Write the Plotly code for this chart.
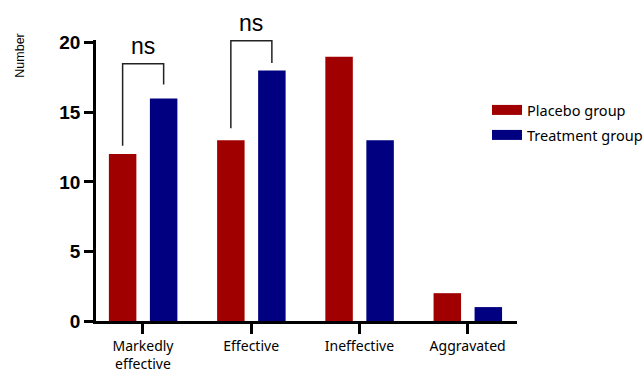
import plotly.graph_objects as go

# Outcome categories and patient counts per group
categories = ["Markedly<br>effective", "Effective", "Ineffective", "Aggravated"]
placebo = [12, 13, 19, 2]
treatment = [16, 18, 13, 1]

# Significance brackets: category index, label, left foot, right foot, top
bracket_cat = [0, 1]
bracket_text = ["ns", "ns"]
bracket_left = [12.6, 13.85]
bracket_right = [17.0, 18.55]
bracket_top = [18.5, 20.15]

RED = "#a00000"
NAVY = "#000080"
BAR_W = 0.254
OFF_P = -0.315
OFF_T = 0.064

xpos = list(range(len(categories)))

fig = go.Figure()
fig.add_bar(x=xpos, y=placebo, width=BAR_W, offset=OFF_P,
            marker=dict(color=RED, line=dict(width=0)),
            name="Placebo group", showlegend=False)
fig.add_bar(x=xpos, y=treatment, width=BAR_W, offset=OFF_T,
            marker=dict(color=NAVY, line=dict(width=0)),
            name="Treatment group", showlegend=False)

# Legend swatches drawn as wide line samples
fig.add_scatter(x=[None], y=[None], mode="lines", name="Placebo group",
                line=dict(color=RED, width=11), legend="legend")
fig.add_scatter(x=[None], y=[None], mode="lines", name="Treatment group",
                line=dict(color=NAVY, width=11), legend="legend2")

cp = OFF_P + BAR_W / 2
ct = OFF_T + BAR_W / 2
for i, txt, yl, yr, yt in zip(bracket_cat, bracket_text, bracket_left,
                              bracket_right, bracket_top):
    xl, xr = i + cp, i + ct
    fig.add_scatter(x=[xl, xl, xr, xr], y=[yl, yt, yt, yr], mode="lines",
                    line=dict(color="#222222", width=1.5),
                    showlegend=False, hoverinfo="skip")
    fig.add_annotation(x=(xl + xr) / 2, y=yt, xref="x", yref="y",
                       text=txt, showarrow=False, yanchor="bottom", yshift=3,
                       font=dict(family="Liberation Sans", size=23, color="black"))

fig.add_annotation(x=-0.18, y=0.945, xref="paper", yref="paper",
                   xanchor="center", yanchor="middle",
                   text="Number", textangle=-90, showarrow=False,
                   font=dict(family="Liberation Sans", size=12.5, color="black"))

legend_font = dict(family="Noto Sans", size=14.5, color="black")
fig.update_layout(
    width=644, height=375,
    margin=dict(l=96, r=127, t=40, b=54, autoexpand=False),
    paper_bgcolor="white", plot_bgcolor="white",
    barmode="overlay",
    legend=dict(x=487 / 644, y=1 - 94 / 375, xref="container", yref="container",
                xanchor="left", yanchor="top", font=legend_font,
                bgcolor="rgba(0,0,0,0)"),
    legend2=dict(x=487 / 644, y=1 - 119 / 375, xref="container", yref="container",
                 xanchor="left", yanchor="top", font=legend_font,
                 bgcolor="rgba(0,0,0,0)"),
    xaxis=dict(range=[-0.434, 3.456], tickvals=xpos, ticktext=categories,
               showline=True, linecolor="black", linewidth=2.5, automargin=False,
               ticks="outside", ticklen=10, tickwidth=2.5, tickcolor="black",
               showgrid=False, zeroline=False,
               tickfont=dict(family="Noto Sans", size=14, color="black")),
    yaxis=dict(range=[0, 20.2], tickvals=[0, 5, 10, 15, 20], automargin=False,
               showline=True, linecolor="black", linewidth=2.5,
               ticks="outside", ticklen=9, tickwidth=2.5, tickcolor="black",
               showgrid=False, zeroline=False,
               tickfont=dict(family="Liberation Sans", size=19, color="black",
                             weight="bold")),
)

fig.write_html("out.html")
